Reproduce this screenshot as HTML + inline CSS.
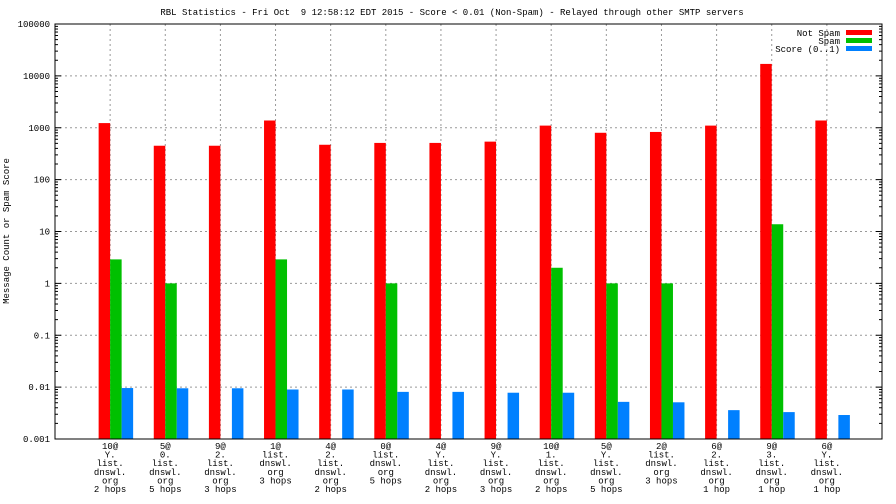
<!DOCTYPE html>
<html><head><meta charset="utf-8"><style>
body{margin:0;background:#fff}
svg{display:block;font-family:"Liberation Mono",monospace;font-size:9px}
</style></head><body>
<svg id="c" width="896" height="504"></svg>
<script>
const categories=[["10@","Y.","list.","dnswl.","org","2 hops"],["5@","0.","list.","dnswl.","org","5 hops"],["9@","2.","list.","dnswl.","org","3 hops"],["1@","list.","dnswl.","org","3 hops"],["4@","2.","list.","dnswl.","org","2 hops"],["0@","list.","dnswl.","org","5 hops"],["4@","Y.","list.","dnswl.","org","2 hops"],["9@","Y.","list.","dnswl.","org","3 hops"],["10@","1.","list.","dnswl.","org","2 hops"],["5@","Y.","list.","dnswl.","org","5 hops"],["2@","list.","dnswl.","org","3 hops"],["6@","2.","list.","dnswl.","org","1 hop"],["9@","3.","list.","dnswl.","org","1 hop"],["6@","Y.","list.","dnswl.","org","1 hop"]];
const notSpam=[1230,450,450,1380,470,510,510,540,1100,800,830,1100,17000,1380];
const spam=[2.9,1,0,2.9,0,1,0,0,2,1,1,0,13.8,0];
const score=[0.0096,0.0095,0.0095,0.009,0.009,0.0081,0.0081,0.0078,0.0078,0.0052,0.0051,0.0036,0.0033,0.0029];
const yTicks=["0.001","0.01","0.1","1","10","100","1000","10000","100000"];
const NS="http://www.w3.org/2000/svg",svg=document.getElementById('c');
const L=55,R=882,T=24,B=439;
const y=v=>B-(Math.log10(v)+3)*(B-T)/8;
const x=i=>L+(R-L)/15*(i+1);
function mk(t,a,txt){const e=document.createElementNS(NS,t);for(const k in a)e.setAttribute(k,a[k]);if(txt!==undefined)e.textContent=txt;svg.appendChild(e);return e;}
yTicks.forEach((t,k)=>{const yy=y(Number(t));
 if(k>0&&k<8){const g=mk('line',{x1:L,x2:R,y1:yy,y2:yy,stroke:'#999','stroke-dasharray':'2,3'});
 
 }
 const tl=mk('text',{x:L-5,y:yy+3,'text-anchor':'end'},t);
 
 
 mk('line',{x1:L,x2:L+6,y1:yy,y2:yy,stroke:'#000'});mk('line',{x1:R,x2:R-6,y1:yy,y2:yy,stroke:'#000'});
 if(k<8)for(let m=2;m<10;m++){const ym=y(Number(t)*m);mk('line',{x1:L,x2:L+3,y1:ym,y2:ym,stroke:'#000'});mk('line',{x1:R,x2:R-3,y1:ym,y2:ym,stroke:'#000'});}
});
categories.forEach((c,i)=>{const cx=x(i);
 const g=mk('line',{x1:cx,x2:cx,y1:T,y2:B,stroke:'#999','stroke-dasharray':'2,3'});
 
 
 c.forEach((s,j)=>{const t=mk('text',{x:cx,y:B+10+j*8.6,'text-anchor':'middle'},s);
 
 });
 const w=11.5;
 [[notSpam,'#ff0000',-w],[spam,'#00c000',0],[score,'#0080ff',w]].forEach(([arr,col,off],s)=>{
  const v=arr[i];if(!v)return;const yy=y(v);
  const b=mk('rect',{x:cx+off,y:yy,width:w,height:B-yy,fill:col});
  
  
 });
});
mk('rect',{x:L,y:T,width:R-L,height:B-T,fill:'none',stroke:'#000'});
const ti=mk('text',{x:452,y:15,'text-anchor':'middle'},"RBL Statistics - Fri Oct  9 12:58:12 EDT 2015 - Score < 0.01 (Non-Spam) - Relayed through other SMTP servers");
ti.setAttribute('xml:space','preserve');ti.style.whiteSpace='pre';
const yl=mk('text',{x:9,y:231,'text-anchor':'middle',transform:'rotate(-90 9 231)'},"Message Count or Spam Score");

[["Not Spam",'#ff0000'],["Spam",'#00c000'],["Score (0..1)",'#0080ff']].forEach(([n,col],k)=>{
 const t=mk('text',{x:840,y:36+k*8,'text-anchor':'end'},n);
 
 mk('rect',{x:846,y:30+k*8,width:26,height:5,fill:col});
});
</script>
</body></html>
